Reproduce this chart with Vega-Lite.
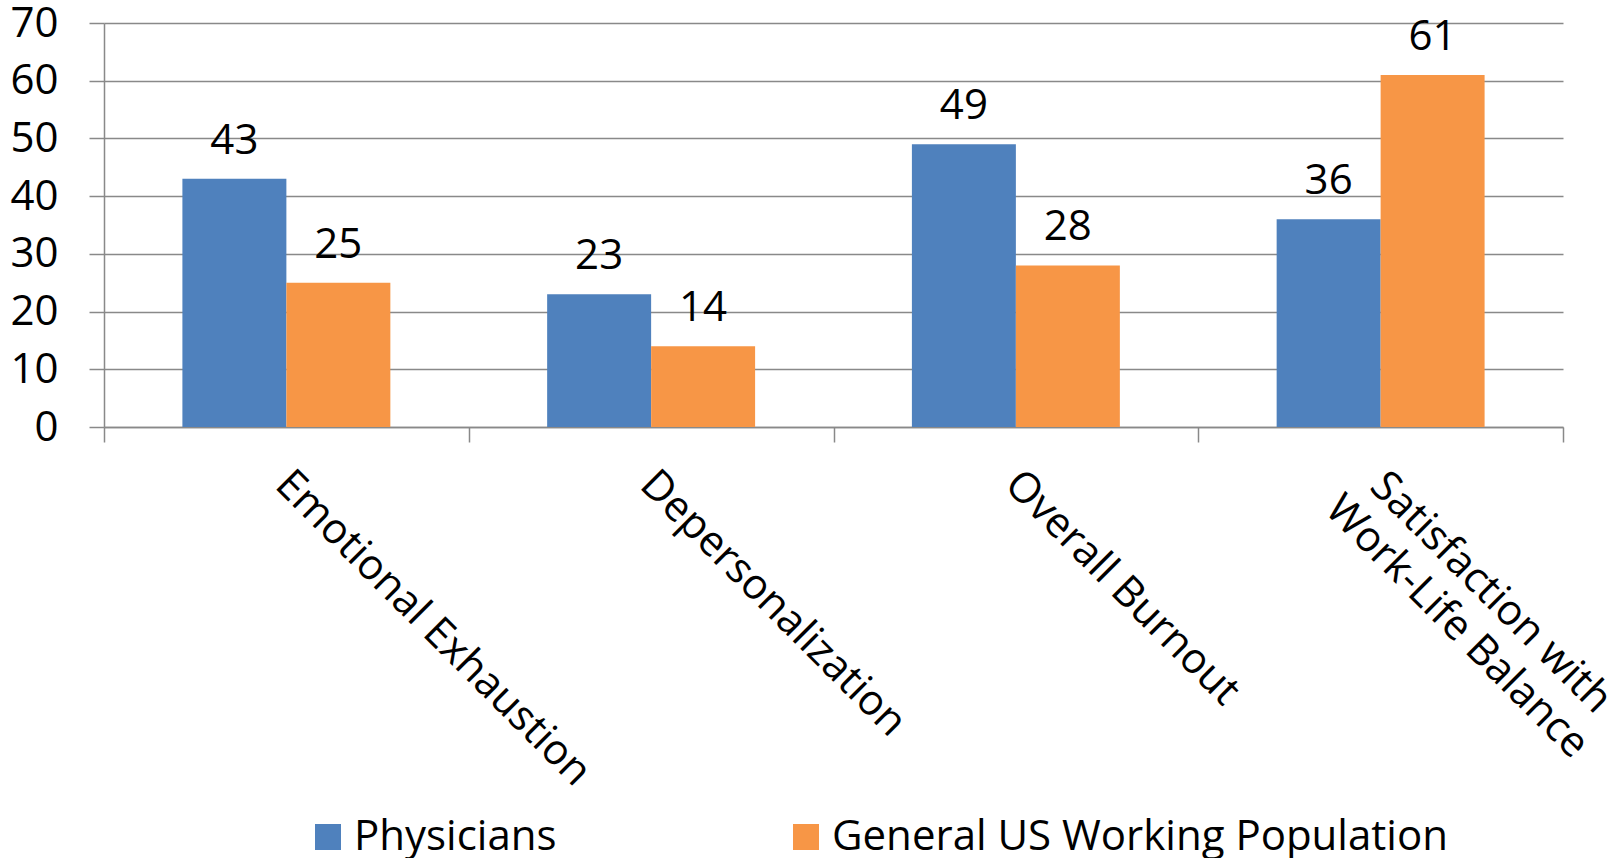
{
  "$schema": "https://vega.github.io/schema/vega-lite/v6.json",
  "autosize": "none",
  "width": 1459,
  "height": 404,
  "padding": {"left": 104, "top": 23, "right": 55, "bottom": 431},
  "background": "white",
  "data": {
    "values": [
      {"measure": "Emotional Exhaustion", "group": "Physicians", "pct": 43},
      {"measure": "Emotional Exhaustion", "group": "General US Working Population", "pct": 25},
      {"measure": "Depersonalization", "group": "Physicians", "pct": 23},
      {"measure": "Depersonalization", "group": "General US Working Population", "pct": 14},
      {"measure": "Overall Burnout", "group": "Physicians", "pct": 49},
      {"measure": "Overall Burnout", "group": "General US Working Population", "pct": 28},
      {"measure": "Satisfaction with Work-Life Balance", "group": "Physicians", "pct": 36},
      {"measure": "Satisfaction with Work-Life Balance", "group": "General US Working Population", "pct": 61}
    ]
  },
  "encoding": {
    "x": {
      "field": "measure",
      "type": "nominal",
      "sort": null,
      "title": null,
      "scale": {"paddingInner": 0, "paddingOuter": 0},
      "axis": {
        "labelAngle": 45,
        "labelAlign": {"condition": {"test": "datum.value == 'Satisfaction with Work-Life Balance'", "value": "center"}, "value": "left"},
        "labelBaseline": "top",
        "labelFont": "Open Sans",
        "labelFontSize": 42,
        "labelColor": "black",
        "labelPadding": {"condition": {"test": "datum.value == 'Satisfaction with Work-Life Balance'", "value": 136}, "value": 21},
        "labelOffset": {"condition": {"test": "datum.value == 'Satisfaction with Work-Life Balance'", "value": 124}, "value": 10},
        "labelLimit": 800,
        "labelLineHeight": 48,
        "labelExpr": "datum.label == 'Satisfaction with Work-Life Balance' ? ['Satisfaction with', 'Work-Life Balance'] : datum.label",
        "tickBand": "extent",
        "tickSize": 15,
        "tickColor": "#898989",
        "tickWidth": 1.5,
        "domainColor": "#898989",
        "domainWidth": 1.5,
        "grid": false
      }
    },
    "xOffset": {
      "field": "group",
      "type": "nominal",
      "sort": ["Physicians", "General US Working Population"],
      "scale": {"paddingInner": 0, "paddingOuter": 0.754}
    },
    "y": {
      "field": "pct",
      "type": "quantitative",
      "title": null,
      "scale": {"domain": [0, 70]},
      "axis": {
        "values": [0, 10, 20, 30, 40, 50, 60, 70],
        "labelFont": "Open Sans",
        "labelFontSize": 42,
        "labelColor": "black",
        "labelPadding": 31,
        "tickSize": 15,
        "tickColor": "#898989",
        "tickWidth": 1.5,
        "domainColor": "#898989",
        "domainWidth": 1.5,
        "gridColor": "#898989",
        "gridWidth": 1.5
      }
    }
  },
  "layer": [
    {
      "mark": {"type": "bar"},
      "encoding": {
        "color": {
          "field": "group",
          "type": "nominal",
          "sort": ["Physicians", "General US Working Population"],
          "scale": {"domain": ["Physicians", "General US Working Population"], "range": ["#4F81BD", "#F79646"]},
          "legend": {
            "title": null,
            "orient": "none",
            "legendX": 203,
            "legendY": 793,
            "direction": "horizontal",
            "symbolType": "square",
            "symbolSize": 676,
            "symbolStrokeWidth": 0,
            "labelFont": "Open Sans",
            "labelFontSize": 42,
            "labelColor": "black",
            "labelOffset": 5,
            "labelLimit": 800,
            "columnPadding": 228
          }
        }
      }
    },
    {
      "mark": {"type": "text", "font": "Open Sans", "fontSize": 42, "color": "black", "baseline": "alphabetic", "dy": -25},
      "encoding": {
        "text": {"field": "pct", "type": "quantitative"}
      }
    }
  ],
  "config": {
    "view": {"stroke": null}
  }
}
